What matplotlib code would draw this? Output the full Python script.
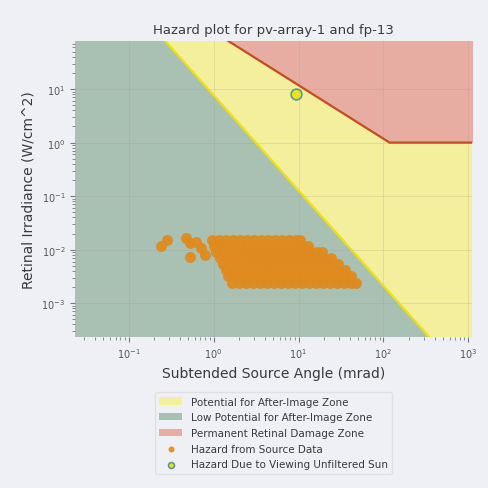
import numpy as np
import matplotlib
matplotlib.use("Agg")
import matplotlib.pyplot as plt

# axis limits (mrad, W/cm^2)
x_limits = [0.0234, 1100]
y_limits = [2.34e-4, 79]

# boundary vertices, straight lines on log-log axes
flash_x = [0.02, 2000]         # after-image threshold
flash_y = [8100, 1.02e-5]
burn_x = [0.5, 118, 2000]      # permanent retinal burn threshold
burn_y = [236, 1.0, 1.0]

# hazard from source data: rows of equal irradiance, subtended angles per row
blob_rows_y = [0.0150, 0.0116, 0.0090, 0.0070, 0.0054, 0.0042, 0.0032, 0.0024]
blob_rows_x = [
    [0.95, 1.15, 1.39, 1.68, 2.03, 2.46, 2.97, 3.6, 4.36, 5.27, 6.38, 7.72, 9.34, 10.5],
    [1.0, 1.15, 1.39, 1.68, 2.03, 2.46, 2.97, 3.6, 4.36, 5.27, 6.38, 7.72, 9.34, 11.3, 13.0],
    [1.08, 1.3, 1.55, 1.85, 2.2, 2.6, 3.1, 3.7, 4.4, 5.3, 6.4, 7.7, 9.3, 11.3, 13.7, 16.6, 19.0],
    [1.2, 1.42, 1.68, 2.03, 2.46, 2.97, 3.6, 4.36, 5.27, 6.38, 7.72, 9.34, 11.3, 13.7, 16.6, 20.0, 24.0],
    [1.28, 1.55, 1.85, 2.2, 2.6, 3.1, 3.7, 4.4, 5.3, 6.4, 7.7, 9.3, 11.3, 13.7, 16.6, 20.0, 24.3, 29.0],
    [1.39, 1.68, 2.03, 2.46, 2.97, 3.6, 4.36, 5.27, 6.38, 7.72, 9.34, 11.3, 13.7, 16.6, 20.0, 24.3, 29.3, 35.0],
    [1.46, 1.75, 2.1, 2.5, 3.0, 3.6, 4.4, 5.3, 6.4, 7.7, 9.3, 11.3, 13.7, 16.6, 20.0, 24.3, 29.3, 35.5, 42.0],
    [1.63, 2.0, 2.4, 2.9, 3.5, 4.2, 5.1, 6.2, 7.5, 9.1, 11.0, 13.3, 16.1, 19.5, 23.6, 28.6, 34.6, 41.0, 48.0],
]
# scattered dots on the left of the cluster
stray_x = [0.243, 0.286, 0.467, 0.53, 0.52, 0.62, 0.71, 0.8]
stray_y = [0.0116, 0.0150, 0.0163, 0.0132, 0.0073, 0.0140, 0.0105, 0.0080]

# hazard due to viewing the unfiltered sun
sun_x = [9.3]
sun_y = [8.2]

src_x = stray_x + [x for row in blob_rows_x for x in row]
src_y = stray_y + [y for row, y in zip(blob_rows_x, blob_rows_y) for _ in row]

bg = "#eef0f5"
text_col = "#3a3a3a"
fig = plt.figure(figsize=(4.88, 4.89), dpi=100, facecolor=bg)
ax = fig.add_axes([0.154, 0.309, 0.813, 0.605])
ax.set_xscale("log")
ax.set_yscale("log")

ax.fill_between(x_limits, [1e-6, 1e-6], [1e5, 1e5], color="#f3ef9c",
                label="Potential for After-Image Zone", zorder=1, lw=0)
ax.fill_between(flash_x, [1e-6, 1e-6], flash_y, color="#a9c1b3",
                label="Low Potential for After-Image Zone", zorder=2, lw=0)
ax.fill_between(burn_x, burn_y, [1e5] * 3, color="#e8ada2",
                label="Permanent Retinal Damage Zone", zorder=2, lw=0)
ax.plot(flash_x, flash_y, color="#f0e010", lw=1.6, zorder=3)
ax.plot(burn_x, burn_y, color="#c84a22", lw=1.6, zorder=3)

ax.scatter(src_x, src_y, s=62, color="#e08a1c", alpha=0.92, lw=0,
           label="Hazard from Source Data", zorder=4)
ax.scatter(sun_x, sun_y, s=60, color="#f0e020", edgecolors="#5a9a98", lw=1.2,
           label="Hazard Due to Viewing Unfiltered Sun", zorder=5)

ax.set_xlim(x_limits)
ax.set_ylim(y_limits)
ax.grid(True, which="major", color="#999999", alpha=0.3, lw=0.5)
ax.set_axisbelow(False)
for s in ax.spines.values():
    s.set_visible(False)
ax.tick_params(which="both", labelsize=7, labelcolor="#555555", color="#777777")

ax.set_title("Hazard plot for pv-array-1 and fp-13", fontsize=9.5, color=text_col)
ax.set_xlabel("Subtended Source Angle (mrad)", fontsize=10, color=text_col)
ax.set_ylabel("Retinal Irradiance (W/cm^2)", fontsize=10, color=text_col)

leg = ax.legend(loc="upper center", bbox_to_anchor=(0.5, -0.17), fontsize=7.5,
                frameon=True, labelspacing=0.55, handlelength=2.2, markerscale=0.55,
                labelcolor=text_col)
leg.get_frame().set_facecolor(bg)
leg.get_frame().set_edgecolor("#dddddd")

fig.savefig("out.png", dpi=100, facecolor=bg)
